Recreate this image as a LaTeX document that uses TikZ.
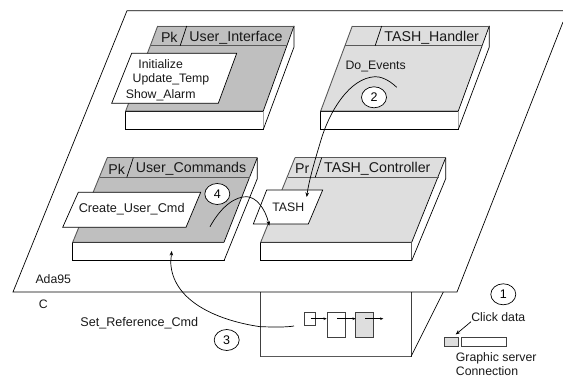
\documentclass[tikz,border=0pt]{standalone}
\usepackage{fontspec}
\setmainfont{Liberation Sans}
\usetikzlibrary{arrows.meta,shapes.geometric}
\definecolor{darkfill}{gray}{0.75}
\definecolor{lightfill}{gray}{0.87}
\tikzset{
  ln/.style={draw=black,line width=0.7pt},
  topface/.style={draw=black!65,line width=0.9pt},
  card/.style={fill=white,draw=black,line width=0.7pt},
  lbl/.style={inner sep=0pt,font=\fontsize{12.3}{14}\selectfont,text=black!90},
  hdr/.style={lbl,font=\fontsize{14.2}{16}\selectfont},
  num/.style={draw=black,fill=white,ellipse,line width=0.7pt,inner sep=0pt,minimum width=25pt,minimum height=21pt,font=\fontsize{12.5}{14}\selectfont},
  flow/.style={line width=0.7pt,-{Stealth[length=4.5pt,width=3.6pt]}},
  smallflow/.style={line width=0.55pt,-{Stealth[length=3.2pt,width=2.6pt]}},
  blk/.style={draw=black!75,line width=0.8pt,inner sep=0pt}
}
% #1 fill, #2 tab left x, #3 tab right x, #4 tab top y, #5 divider top x, #6 front left x, #7 front right x, #8 front top y
\newcommand{\slab}[8]{%
  \pgfmathsetmacro{\ytb}{#4+19.7}
  \pgfmathsetmacro{\ybot}{#8+18.4}
  \pgfmathsetmacro{\xtbl}{#2-7}
  \pgfmathsetmacro{\xtbr}{#3-7.2}
  \pgfmathsetmacro{\xdivb}{#5-6.5}
  \fill[#1] (#2,#4) -- (#3,#4) -- (#7,#8) -- (#6,#8) -- cycle;
  \filldraw[fill=white,draw=black,line width=0.7pt] (#6,#8) -- (#7,#8) -- (#7,\ybot) -- (#6,\ybot) -- cycle;
  \fill[white] (#3,#4) -- (#3,#4+21) -- (#7,\ybot) -- (#7,#8) -- cycle;
  \draw[ln] (#3,#4) -- (#3,#4+21) -- (#7,\ybot);
  \draw[ln] (#3,#4) -- (#7,#8);
  \draw[topface] (#2,#4) -- (#3,#4);
  \draw[topface] (#2,#4) -- (#6,#8) -- (#7,#8);
  \draw[topface] (\xtbl,\ytb) -- (\xtbr,\ytb);
  \draw[ln] (#5,#4) -- (\xdivb,\ytb);
}
\begin{document}
\begin{tikzpicture}[x=1pt,y=-1pt]
\useasboundingbox (0,0) rectangle (563,379);
% lower box
\draw[ln,black!75] (260.7,292) -- (260.7,356.7);
\draw[ln,black!75] (411,292) -- (411,356.7);
\draw[black!65,line width=1.2pt] (260.7,356.7) -- (411,356.7);
\draw[ln] (411,356.7) -- (443.3,292);
% Ada95 plane
\draw[ln] (563,22) -- (457,292) -- (13,292) -- (127,10.7) -- (563,10.7);
% slabs
\slab{darkfill}{157.7}{294}{26}{186.7}{125.7}{263.3}{111}
\slab{lightfill}{352.3}{489.3}{26}{381.7}{320.7}{458.3}{111}
\slab{darkfill}{107.3}{257.3}{157.7}{133.3}{72.7}{224}{242.3}
\slab{lightfill}{295}{445.7}{157.7}{321.7}{260.7}{411.7}{242.3}
% headers
\node[hdr] (pk1) at (169.3,37.3) {Pk};
\node[hdr] (ui) at (236,37.3) {User\_Interface};
\node[hdr] (th) at (431.7,37.3) {TASH\_Handler};
\node[hdr] (pk2) at (116.7,169) {Pk};
\node[hdr] (uc) at (191,169) {User\_Commands};
\node[hdr] (pr) at (302.3,169) {Pr};
\node[hdr] (tc) at (377.3,169) {TASH\_Controller};
% cards
\draw[card] (131.7,53.3) -- (236.7,53.3) -- (218.3,103.3) -- (111.7,103.3) -- cycle;
\draw[card] (78.3,192.3) -- (200.7,192.3) -- (186,227.3) -- (62.7,227.3) -- cycle;
\draw[card] (266.7,190) -- (322.7,190) -- (308.3,224) -- (253.3,224) -- cycle;
\node[lbl] (init) at (160.7,64.3) {Initialize};
\node[lbl] (upd) at (171,79) {Update\_Temp};
\node[lbl] (show) at (160.7,95) {Show\_Alarm};
\node[lbl,font=\fontsize{12.7}{14}\selectfont] (cuc) at (131.7,209) {Create\_User\_Cmd};
\node[lbl] (tash) at (288.3,207.7) {TASH};
\node[lbl] (de) at (375.7,66.7) {Do\_Events};
% outer labels
\node[lbl] (ada) at (53.3,279) {Ada95};
\node[lbl] (c) at (43.3,304) {C};
\node[lbl,font=\fontsize{12.6}{14}\selectfont] (srf) at (139.3,323.3) {Set\_Reference\_Cmd};
\node[lbl] (click) at (498.3,316.7) {Click data};
\node[lbl,anchor=west] (gs) at (455.7,358.5) {Graphic server};
\node[lbl,anchor=west] (conn) at (455.7,371.5) {Connection};
% numbered circles
\node[num] (n1) at (503.3,294.3) {1};
\node[num] (n2) at (374,97.3) {2};
\node[num] (n3) at (226.7,340) {3};
\node[num] (n4) at (217.3,194) {4};
% little blocks
\node[blk,minimum width=11.4pt,minimum height=13pt] (b1) at (310,319.2) {};
\node[blk,minimum width=17.7pt,minimum height=24.6pt] (b2) at (336.2,325) {};
\node[blk,fill=lightfill,minimum width=17.6pt,minimum height=24.6pt] (b3) at (364.5,325) {};
\coordinate (b1out) at (310.7,318.7);
\coordinate (b2in) at (326.7,318.7);
\coordinate (b2out) at (337.3,318.7);
\coordinate (b3in) at (355.7,318.7);
\coordinate (b3out) at (365,318.7);
\coordinate (b4) at (383.3,318.7);
\draw[smallflow] (b1out) -- (b2in);
\draw[smallflow] (b2out) -- (b3in);
\draw[smallflow] (b3out) -- (b4);
% graphic server connection
\node[blk,fill=lightfill,minimum width=14pt,minimum height=9.4pt] (gs1) at (451.3,342) {};
\node[blk,minimum width=45pt,minimum height=9.4pt] (gs2) at (483.5,342) {};
\coordinate (cl) at (471,321.7);
\draw[flow] (cl) -- (455.7,334.5);
% curved connectors
\coordinate (d2s) at (396.7,87.3);
\coordinate (d2t) at (306.7,197);
\draw[flow] (d2s) .. controls (388,79) and (380,76.5) .. (375,76.7)
  .. controls (350,78) and (330,110) .. (321,140)
  .. controls (315,160) and (309,180) .. (d2t);
\coordinate (d4s) at (210,226.7);
\coordinate (d4t) at (269.3,225.7);
\draw[flow] (d4s) .. controls (222,205) and (236,196.5) .. (246.7,196.7)
  .. controls (256,197) and (265,208) .. (d4t);
\coordinate (d3s) at (294,326);
\coordinate (d3t) at (171.7,251);
\draw[flow] (d3s) .. controls (285,327.5) and (272,327) .. (260,326.7)
  .. controls (215,320) and (172,300) .. (170.7,262) -- (d3t);
\end{tikzpicture}
\end{document}
